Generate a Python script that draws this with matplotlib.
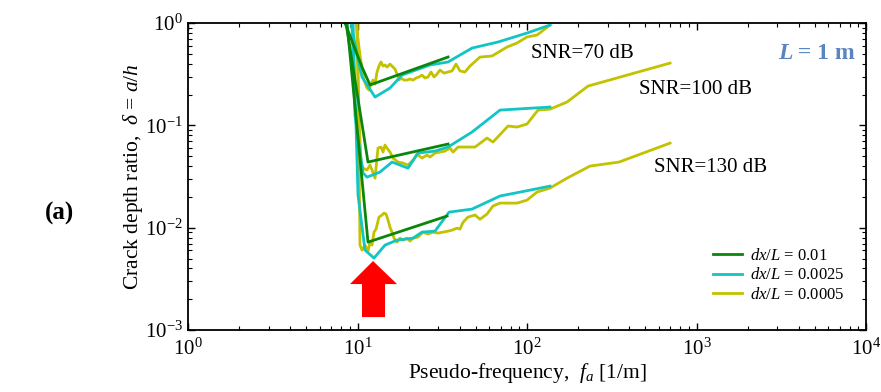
import matplotlib
matplotlib.use("Agg")
import matplotlib.pyplot as plt
from matplotlib.patches import Polygon
from matplotlib.lines import Line2D

plt.rcParams["font.family"] = ["Liberation Serif", "DejaVu Serif"]
plt.rcParams["mathtext.fontset"] = "custom"
plt.rcParams["mathtext.rm"] = "Liberation Serif"
plt.rcParams["mathtext.it"] = "Liberation Serif:italic"
plt.rcParams["mathtext.bf"] = "Liberation Serif:bold"

# ---- dx/L = 0.01 ----
f_g70 = [8.44, 10.63, 11.85, 34.2]
d_g70 = [1.0, 0.371, 0.248, 0.465]
f_g100 = [8.55, 11.53, 34.2]
d_g100 = [1.0, 0.0438, 0.0657]
f_g130 = [8.67, 11.53, 33.74]
d_g130 = [1.0, 0.00723, 0.0130]

# ---- dx/L = 0.0025 ----
f_c70 = [9.156, 9.93, 10.63, 12.69, 15.55, 18.30, 26.77, 34.2, 47.37, 67.44, 100, 136.7]
d_c70 = [1.0, 0.487, 0.297, 0.189, 0.2315, 0.310, 0.389, 0.416, 0.569, 0.652, 0.798, 0.956]
f_c100 = [9.28, 9.66, 10.78, 11.38, 13.58, 15.98, 19.86, 22.75, 28.66, 34.2, 47.37, 69.3, 136.7]
d_c100 = [1.0, 0.126, 0.0342, 0.0312, 0.0350, 0.0438, 0.0382, 0.0536, 0.0561, 0.0614,
          0.0860, 0.141, 0.151]
f_c130 = [9.41, 10.07, 11.07, 12.51, 14.53, 17.10, 21.26, 24.02, 28.66, 34.67, 47.37,
          69.3, 104.2, 136.7]
d_c130 = [1.0, 0.0208, 0.00604, 0.00505, 0.00676, 0.00756, 0.00791, 0.00906, 0.00926,
          0.0142, 0.0152, 0.0204, 0.0233, 0.0255]

# ---- dx/L = 0.0005 ----
f_y70 = [9.80, 10.34, 10.92, 11.38, 11.69, 12.01, 12.34, 12.69, 13.03, 13.39, 13.76, 14.14,
         14.53, 14.93, 15.55, 16.20, 16.64, 17.10, 17.57, 18.06, 18.81, 19.59, 20.40, 21.26,
         22.14, 23.06, 24.02, 25.02, 26.06, 27.14, 28.27, 29.45, 30.67, 32.39, 34.2, 36.11,
         38.12, 40.25, 43.07, 46.10, 52.81, 62.14, 76.2, 87.3, 100, 114.6, 136.7]
d_y70 = [1.0, 0.487, 0.277, 0.2315, 0.2214, 0.253, 0.277, 0.253, 0.332, 0.380, 0.416, 0.380,
         0.389, 0.371, 0.397, 0.371, 0.355, 0.317, 0.277, 0.290, 0.277, 0.277, 0.284, 0.277,
         0.290, 0.297, 0.310, 0.290, 0.297, 0.332, 0.297, 0.317, 0.347, 0.324, 0.332, 0.340,
         0.397, 0.340, 0.332, 0.380, 0.465, 0.476, 0.582, 0.638, 0.730, 0.763, 0.956]
f_y100 = [9.93, 10.21, 10.49, 10.78, 11.38, 11.85, 12.18, 12.69, 13.03, 13.21, 13.76, 14.14,
          14.53, 14.93, 15.55, 16.20, 17.34, 18.55, 19.86, 21.26, 22.44, 24.02, 25.70, 26.77,
          28.66, 30.67, 32.83, 35.14, 36.60, 39.17, 43.07, 49.34, 58.08, 63.0, 77.3, 87.3,
          100, 116.1, 136.7, 172.2, 229, 698]
d_y100 = [1.0, 0.1127, 0.0438, 0.0382, 0.0366, 0.0409, 0.0366, 0.0305, 0.0479, 0.0600, 0.0614,
          0.0548, 0.0642, 0.0600, 0.0548, 0.0479, 0.0438, 0.0428, 0.0409, 0.0458, 0.0524,
          0.0479, 0.0513, 0.0490, 0.0536, 0.0548, 0.0561, 0.0600, 0.0548, 0.0614, 0.0614,
          0.0614, 0.0751, 0.0687, 0.0985, 0.0963, 0.1030, 0.141, 0.144, 0.169, 0.242, 0.406]
f_y130 = [9.93, 10.21, 10.34, 10.63, 11.07, 11.53, 11.85, 12.18, 12.51, 12.86, 13.39, 13.95,
          14.33, 14.73, 15.13, 15.55, 15.98, 16.42, 17.10, 17.81, 18.55, 19.59, 20.40, 21.26,
          22.75, 24.35, 26.06, 27.89, 29.85, 31.95, 34.2, 36.11, 38.64, 40.25, 41.92, 44.86,
          49.34, 52.81, 58.08, 63.0, 69.3, 87.3, 100, 114.6, 136.7, 172.2, 235.3, 349, 698]
d_y130 = [1.0, 0.0574, 0.00676, 0.00604, 0.00676, 0.00590, 0.00723, 0.00676, 0.00906, 0.00969,
          0.0127, 0.0133, 0.0139, 0.0136, 0.0119, 0.0101, 0.00906, 0.00791, 0.00723, 0.00791,
          0.00756, 0.00791, 0.00740, 0.00791, 0.00809, 0.00906, 0.00866, 0.00906, 0.00886,
          0.00906, 0.00926, 0.00947, 0.00991, 0.00969, 0.0113, 0.0127, 0.0133, 0.0121, 0.0136,
          0.0163, 0.0174, 0.0174, 0.0186, 0.0223, 0.0244, 0.0305, 0.0400, 0.0438, 0.0671]

legend_labels = [r"$dx/L$ = 0.01", r"$dx/L$ = 0.0025", r"$dx/L$ = 0.0005"]
snr_labels = ["SNR=70 dB", "SNR=100 dB", "SNR=130 dB"]

GREEN = "#0a860a"
CYAN = "#12c4c4"
OLIVE = "#c2c200"
LW = 2.0

fig = plt.figure(figsize=(8.81, 3.92), dpi=100)
ax = fig.add_axes([0.2134, 0.158, 0.7696, 0.7833])

# olive first, then cyan, then green on top
ax.plot(f_y70, d_y70, color=OLIVE, lw=LW)
ax.plot(f_y100, d_y100, color=OLIVE, lw=LW)
ax.plot(f_y130, d_y130, color=OLIVE, lw=LW)
ax.plot(f_c70, d_c70, color=CYAN, lw=LW)
ax.plot(f_c100, d_c100, color=CYAN, lw=LW)
ax.plot(f_c130, d_c130, color=CYAN, lw=LW)
ax.plot(f_g70, d_g70, color=GREEN, lw=LW)
ax.plot(f_g100, d_g100, color=GREEN, lw=LW)
ax.plot(f_g130, d_g130, color=GREEN, lw=LW)

ax.set_xscale("log")
ax.set_yscale("log")
ax.set_xlim(1, 1e4)
ax.set_ylim(1e-3, 1)

ax.tick_params(which="both", direction="in", top=True, right=True, labelsize=15)
ax.tick_params(which="major", length=5, width=1)
ax.tick_params(which="minor", length=3, width=0.8)
ax.tick_params(axis="x", pad=6)
for sp in ax.spines.values():
    sp.set_linewidth(1.3)

ax.set_xlabel(r"Pseudo-frequency,  $f_a$ [1/m]", fontsize=15.5, labelpad=1)
ax.set_ylabel(r"Crack depth ratio,  $\delta$ = $a/h$", fontsize=15.5, labelpad=0)

# legend built from proxy lines
handles = [Line2D([], [], color=c, lw=LW) for c in (GREEN, CYAN, OLIVE)]
ax.legend(handles, legend_labels, loc="lower right", bbox_to_anchor=(0.99, 0.04),
          frameon=False, fontsize=12, handlelength=1.75, handletextpad=0.45,
          labelspacing=0.2)

# curve annotations
ax.text(0.581, 0.902, snr_labels[0], transform=ax.transAxes, fontsize=15,
        ha="center", va="center")
ax.text(0.749, 0.785, snr_labels[1], transform=ax.transAxes, fontsize=15,
        ha="center", va="center")
ax.text(0.770, 0.531, snr_labels[2], transform=ax.transAxes, fontsize=15,
        ha="center", va="center")

# "L = 1 m" tag: bold-italic L followed by bold text
tag_color = "#5a86c0"
t_l = ax.text(0.870, 0.902, "L", transform=ax.transAxes, fontsize=17,
              fontweight="bold", fontstyle="italic", ha="left", va="center",
              color=tag_color)
ax.annotate(" = 1 m", xy=(1, 0.5), xycoords=t_l, fontsize=17, fontweight="bold",
            ha="left", va="center", color=tag_color)

fig.text(0.068, 0.456, "(a)", fontsize=18, fontweight="bold", ha="center", va="center")

# red arrow pointing at the minimum
arrow = Polygon([[0.2729, 0.2248], [0.3083, 0.1498], [0.2906, 0.1498], [0.2906, 0.0423],
                 [0.2566, 0.0423], [0.2566, 0.1498], [0.2389, 0.1498]],
                closed=True, transform=ax.transAxes, facecolor="#ff0000",
                edgecolor="none", zorder=5)
ax.add_patch(arrow)

fig.savefig("out.png", dpi=100)
